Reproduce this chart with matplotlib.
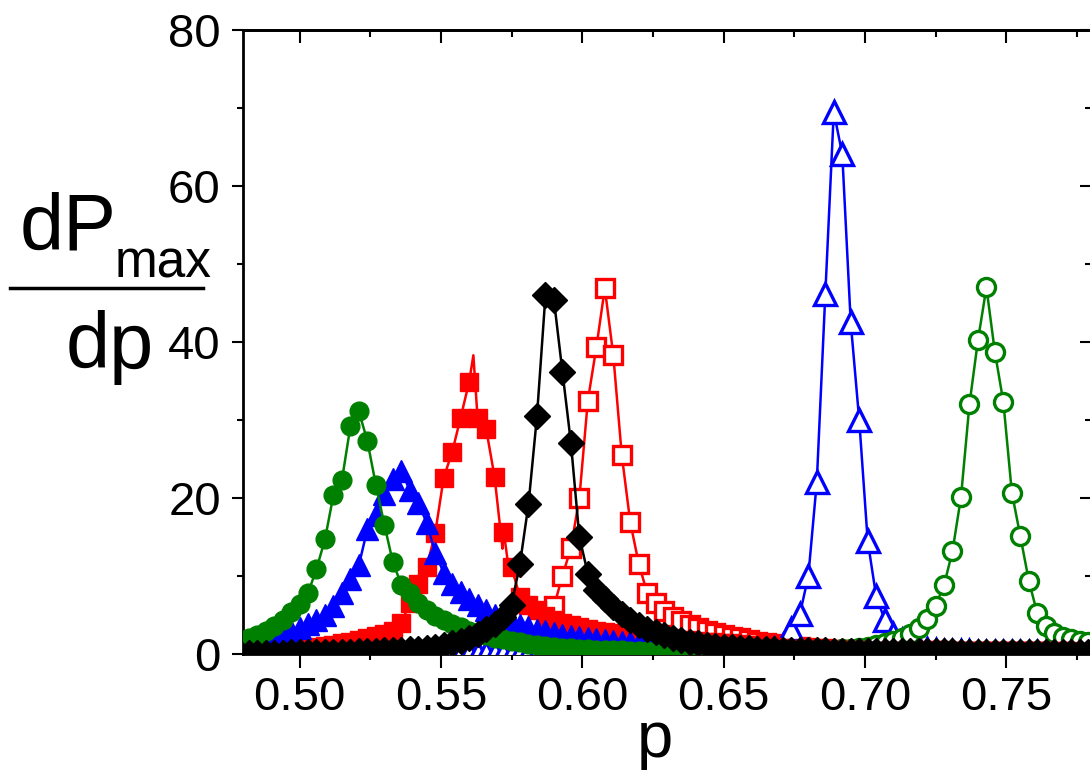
import numpy as np
import matplotlib
matplotlib.use("Agg")
import matplotlib.pyplot as plt
from matplotlib.lines import Line2D
from matplotlib.ticker import MultipleLocator, FormatStrFormatter

plt.rcParams['font.family'] = ['Liberation Sans', 'DejaVu Sans']

# -----------------------------
# Data
# -----------------------------
P_GRID = [0.479, 0.482, 0.485, 0.488, 0.491, 0.494, 0.497, 0.500, 0.503, 0.506,
          0.509, 0.512, 0.515, 0.518, 0.521, 0.524, 0.527, 0.530, 0.533, 0.536,
          0.539, 0.542, 0.545, 0.548, 0.551, 0.554, 0.557, 0.560, 0.563, 0.566,
          0.569, 0.572, 0.575, 0.578, 0.581, 0.584, 0.587, 0.590, 0.593, 0.596,
          0.599, 0.602, 0.605, 0.608, 0.611, 0.614, 0.617, 0.620, 0.623, 0.626,
          0.629, 0.632, 0.635, 0.638, 0.641, 0.644, 0.647, 0.650, 0.653, 0.656,
          0.659, 0.662, 0.665, 0.668, 0.671, 0.674, 0.677, 0.680, 0.683, 0.686,
          0.689, 0.692, 0.695, 0.698, 0.701, 0.704, 0.707, 0.710, 0.713, 0.716,
          0.719, 0.722, 0.725, 0.728, 0.731, 0.734, 0.737, 0.740, 0.743, 0.746,
          0.749, 0.752, 0.755, 0.758, 0.761, 0.764, 0.767, 0.770, 0.773, 0.776,
          0.779]

# filled symbols (whole p range)
green_fill = [1.6, 2.0, 2.4, 2.9, 3.6, 4.4, 5.4, 6.4, 7.8, 10.9,
              14.7, 20.4, 22.3, 29.2, 31.1, 27.3, 21.7, 16.6, 11.8, 8.9,
              7.8, 6.5, 5.6, 4.9, 4.3, 3.8, 3.4, 3.0, 2.7, 2.4,
              2.1, 1.9, 1.7, 1.5, 1.3, 1.15, 1.0, 0.9, 0.8, 0.72,
              0.65, 0.6, 0.56, 0.52, 0.49, 0.46, 0.44, 0.42, 0.4, 0.38,
              0.37, 0.36, 0.35, 0.34, 0.33, 0.32, 0.31, 0.3, 0.3, 0.29,
              0.29, 0.28, 0.28, 0.27, 0.27, 0.26, 0.26, 0.25, 0.25, 0.25,
              0.24, 0.24, 0.24, 0.23, 0.23, 0.23, 0.23, 0.22, 0.22, 0.22,
              0.22, 0.21, 0.21, 0.21, 0.21, 0.2, 0.2, 0.2, 0.2, 0.2,
              0.19, 0.19, 0.19, 0.19, 0.19, 0.18, 0.18, 0.18, 0.18, 0.18,
              0.18]

blue_fill = [1.4, 1.6, 1.8, 2.0, 2.3, 2.6, 3.0, 3.3, 3.8, 4.4,
             5.0, 6.2, 7.8, 9.6, 11.4, 16.0, 17.8, 20.5, 22.4, 23.5,
             21.0, 19.4, 16.8, 13.0, 10.4, 9.0, 8.0, 7.1, 6.3, 5.6,
             5.0, 4.5, 4.1, 3.7, 3.4, 3.1, 2.9, 2.7, 2.5, 2.35,
             2.2, 2.05, 1.9, 1.8, 1.7, 1.6, 1.5, 1.4, 1.3, 1.2,
             1.1, 1.0, 0.95, 0.9, 0.86, 0.82, 0.79, 0.76, 0.73, 0.7,
             0.68, 0.66, 0.64, 0.62, 0.6, 0.58, 0.57, 0.56, 0.55, 0.54,
             0.53, 0.52, 0.51, 0.5, 0.5, 0.49, 0.49, 0.48, 0.48, 0.47,
             0.47, 0.46, 0.46, 0.46, 0.45, 0.45, 0.45, 0.44, 0.44, 0.44,
             0.44, 0.43, 0.43, 0.43, 0.43, 0.42, 0.42, 0.42, 0.42, 0.42,
             0.41]

red_fill = [0.3, 0.32, 0.35, 0.38, 0.42, 0.46, 0.5, 0.6, 0.7, 0.85,
            1.0, 1.2, 1.4, 1.6, 1.8, 2.0, 2.3, 2.6, 3.0, 4.0,
            6.5, 9.0, 11.2, 15.5, 22.6, 25.9, 30.3, 34.9, 30.2, 28.9,
            22.7, 15.7, 11.1, 7.3, 6.3, 5.6, 4.9, 4.4, 4.0, 3.7,
            3.4, 3.2, 3.0, 2.8, 2.7, 2.5, 2.4, 2.3, 2.2, 2.1,
            2.0, 1.9, 1.8, 1.75, 1.7, 1.6, 1.5, 1.45, 1.4, 1.3,
            1.2, 1.1, 1.0, 0.9, 0.8, 0.7, 0.65, 0.6, 0.55, 0.52,
            0.5, 0.48, 0.46, 0.45, 0.44, 0.43, 0.42, 0.41, 0.4, 0.4,
            0.39, 0.39, 0.38, 0.38, 0.37, 0.37, 0.36, 0.36, 0.36, 0.35,
            0.35, 0.35, 0.34, 0.34, 0.34, 0.33, 0.33, 0.33, 0.33, 0.32,
            0.32]
# extra points of the red line (the sharp spike and the small wiggle)
red_line_extra_p = [0.5615, 0.5718, 0.5728, 0.5735]
red_line_extra_y = [38.3, 13.5, 14.2, 12.3]

black_fill = [0.15, 0.15, 0.16, 0.17, 0.18, 0.19, 0.2, 0.21, 0.22, 0.24,
              0.26, 0.28, 0.3, 0.32, 0.35, 0.38, 0.41, 0.45, 0.5, 0.55,
              0.62, 0.7, 0.8, 0.95, 1.15, 1.4, 1.7, 2.1, 2.6, 3.2,
              3.9, 4.8, 6.3, 11.6, 19.2, 30.5, 46.0, 45.4, 36.2, 27.1,
              15.0, 10.3, 8.2, 7.0, 6.0, 5.1, 4.3, 3.7, 3.2, 2.8,
              2.4, 2.1, 1.8, 1.6, 1.4, 1.2, 1.05, 0.95, 0.85, 0.78,
              0.72, 0.66, 0.62, 0.58, 0.55, 0.52, 0.5, 0.48, 0.46, 0.45,
              0.44, 0.43, 0.42, 0.41, 0.4, 0.39, 0.38, 0.37, 0.36, 0.35,
              0.35, 0.34, 0.34, 0.33, 0.33, 0.32, 0.32, 0.31, 0.31, 0.3,
              0.3, 0.3, 0.29, 0.29, 0.29, 0.28, 0.28, 0.28, 0.28, 0.27,
              0.27]

# open symbols (partial p ranges, given by first grid index)
red_open_start = 37
red_open = [6.1, 10.0, 13.6, 20.0, 32.5, 39.3, 46.9, 38.3, 25.5, 16.9,
            11.6, 7.8, 6.5, 5.5, 4.8, 4.2, 3.7, 3.3, 3.0, 2.7,
            2.45, 2.2, 2.0, 1.8, 1.6, 1.45, 1.3, 1.15, 1.0, 0.9,
            0.8, 0.7, 0.6, 0.55, 0.5, 0.48, 0.46, 0.44, 0.42, 0.4,
            0.39, 0.38, 0.37, 0.36, 0.35, 0.34, 0.33, 0.32, 0.31, 0.3,
            0.3, 0.29, 0.29, 0.28, 0.28, 0.27, 0.27, 0.26, 0.26, 0.25,
            0.25, 0.25, 0.24, 0.24]

blue_open_start = 21
blue_open = [0.12, 0.1, 0.11, 0.1, 0.12, 0.1, 0.11, 0.1, 0.1, 0.12,
             0.11, 0.1, 0.1, 0.12, 0.11, 0.1, 0.11, 0.1, 0.12, 0.1,
             0.11, 0.1, 0.1, 0.11, 0.12, 0.1, 0.11, 0.1, 0.12, 0.1,
             0.11, 0.1, 0.12, 0.11, 0.1, 0.12, 0.11, 0.1, 0.12, 0.11,
             0.15, 0.3, 0.6, 1.1, 3.2, 5.1, 10.0, 22.1, 46.1, 69.5,
             64.1, 42.5, 30.0, 14.5, 7.4, 4.4, 2.6, 1.8, 1.2, 0.8,
             0.6, 0.45, 0.4, 0.37, 0.35, 0.33, 0.32, 0.31, 0.3, 0.29,
             0.28, 0.28, 0.27, 0.27, 0.26, 0.26, 0.25, 0.25, 0.25, 0.24]

green_open_start = 70
green_open = [0.5, 0.6, 0.7, 0.8, 0.95, 1.15, 1.4, 1.7, 2.1, 2.6,
              3.3, 4.5, 6.2, 8.8, 13.2, 20.1, 32.0, 40.2, 47.0, 38.7,
              32.3, 20.7, 15.1, 9.4, 5.2, 3.6, 2.7, 2.2, 1.9, 1.7,
              1.5]

# -----------------------------
# Figure
# -----------------------------
W, H = 1090, 780
fig = plt.figure(figsize=(W / 100, H / 100), dpi=100)
ax = fig.add_axes([243 / W, 1 - 654 / H, (1091 - 243) / W, (654 - 30) / H])

lw = 1.8
mew_open = 2.4

# open symbols first (they sit under the filled ones)
ro_p = P_GRID[red_open_start:red_open_start + len(red_open)]
ax.plot(ro_p, red_open, color="red", lw=lw, marker="s", ms=12.5, mfc="white",
        mec="red", mew=mew_open, zorder=2)

bo_p = P_GRID[blue_open_start:blue_open_start + len(blue_open)]
ax.plot(bo_p, blue_open, color="blue", lw=lw, marker="^", ms=16, mfc="white",
        mec="blue", mew=mew_open, zorder=3)

go_p = P_GRID[green_open_start:green_open_start + len(green_open)]
ax.plot(go_p, green_open, color="green", lw=lw, marker="o", ms=13, mfc="white",
        mec="green", mew=mew_open, zorder=4)

# filled red squares: line includes a few extra points, markers on the grid
red_line = sorted(zip(P_GRID + red_line_extra_p, red_fill + red_line_extra_y))
ax.plot([a for a, b in red_line], [b for a, b in red_line], color="red", lw=lw, zorder=5)
ax.plot(P_GRID, red_fill, ls="none", marker="s", ms=12.5, color="red", mec="red", zorder=5)

ax.plot(P_GRID, blue_fill, color="blue", lw=lw, marker="^", ms=16, mec="blue", zorder=6)
ax.plot(P_GRID, green_fill, color="green", lw=lw, marker="o", ms=13.5, mec="green", zorder=7)
ax.plot(P_GRID, black_fill, color="black", lw=lw, marker="D", ms=13, mec="black", zorder=8)

# axes styling
ax.set_xlim(0.48, 0.78)
ax.set_ylim(0, 80)
ax.xaxis.set_major_locator(MultipleLocator(0.05))
ax.xaxis.set_minor_locator(MultipleLocator(0.025))
ax.xaxis.set_major_formatter(FormatStrFormatter("%.2f"))
ax.yaxis.set_major_locator(MultipleLocator(20))
ax.yaxis.set_minor_locator(MultipleLocator(10))

for s in ax.spines.values():
    s.set_linewidth(2)

ax.tick_params(axis="both", which="both", labelsize=34, width=1.5)
ax.tick_params(axis="x", which="major", direction="out", length=10, pad=6)
ax.tick_params(axis="x", which="minor", direction="out", length=4.5)
ax.tick_params(axis="y", which="major", direction="out", length=8, pad=8)
ax.tick_params(axis="y", which="minor", direction="out", length=4)

# top/right ticks pointing inward
axt = ax.secondary_xaxis("top")
axt.xaxis.set_major_locator(MultipleLocator(0.05))
axt.xaxis.set_minor_locator(MultipleLocator(0.025))
axt.tick_params(axis="x", which="major", direction="in", length=9, width=1.5, labeltop=False)
axt.tick_params(axis="x", which="minor", direction="in", length=4.8, width=1.5)
axr = ax.secondary_yaxis("right")
axr.yaxis.set_major_locator(MultipleLocator(20))
axr.yaxis.set_minor_locator(MultipleLocator(10))
axr.tick_params(axis="y", which="major", direction="in", length=8, width=1.5, labelright=False)
axr.tick_params(axis="y", which="minor", direction="in", length=4, width=1.5)
for sec in (axt, axr):
    for s in sec.spines.values():
        s.set_linewidth(2)

# y label as a stacked fraction dP_max / dp
fig.text(20 / W, 1 - 249 / H, "dP", fontsize=57, ha="left", va="baseline")
fig.text(115 / W, 1 - 277 / H, "max", fontsize=37, ha="left", va="baseline")
fig.add_artist(Line2D([10 / W, 203 / W], [1 - 288 / H, 1 - 288 / H],
                      transform=fig.transFigure, color="black", lw=2.5))
fig.text(66 / W, 1 - 368 / H, "dp", fontsize=57, ha="left", va="baseline")

# x label
fig.text(655 / W, 1 - 757 / H, "p", fontsize=47, ha="center", va="baseline")

fig.savefig("out.png", dpi=100)
